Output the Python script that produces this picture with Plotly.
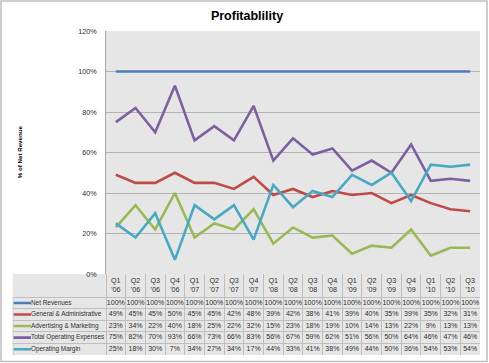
import plotly.graph_objects as go

# ---------------- data ----------------
quarters = ["Q1", "Q2", "Q3", "Q4", "Q1", "Q2", "Q3", "Q4", "Q1", "Q2", "Q3", "Q4",
            "Q1", "Q2", "Q3", "Q4", "Q1", "Q2", "Q3"]
years = ["'06", "'06", "'06", "'06", "'07", "'07", "'07", "'07", "'08", "'08", "'08", "'08",
         "'09", "'09", "'09", "'09", "'10", "'10", "'10"]

series_names = ["Net Revenues", "General & Administrative", "Advertising & Marketing",
                "Total Operating Expenses", "Operating Margin"]
net_revenues = [100] * 19
general_admin = [49, 45, 45, 50, 45, 45, 42, 48, 39, 42, 38, 41, 39, 40, 35, 39, 35, 32, 31]
advertising_marketing = [23, 34, 22, 40, 18, 25, 22, 32, 15, 23, 18, 19, 10, 14, 13, 22, 9, 13, 13]
total_opex = [75, 82, 70, 93, 66, 73, 66, 83, 56, 67, 59, 62, 51, 56, 50, 64, 46, 47, 46]
operating_margin = [25, 18, 30, 7, 34, 27, 34, 17, 44, 33, 41, 38, 49, 44, 50, 36, 54, 53, 54]
series_values = [net_revenues, general_admin, advertising_marketing, total_opex, operating_margin]
colors = ["#4A7EBB", "#BE4B48", "#98B954", "#7D60A0", "#46AAC5"]

# ---------------- layout geometry (pixels) ----------------
W, H = 489, 363
PLOT_L, PLOT_R, PLOT_T, PLOT_B = 106, 480, 31, 274
TABLE_L, TABLE_B = 12.7, 355
n = len(quarters)
band = (PLOT_R - PLOT_L) / n
x2_left = -0.5 - (PLOT_L - TABLE_L) / band


def px_to_x2(px):
    return x2_left + (px - TABLE_L) / band


FONT = "Liberation Sans, Arial, sans-serif"
TXT = "#2E2E2E"
GRID = "#B3B3B3"
TGRID = "#BFBFBF"

cats = list(range(n))
fig = go.Figure()

# main lines
for name, vals, col in zip(series_names, series_values, colors):
    fig.add_trace(go.Scatter(x=cats, y=[v / 100 for v in vals], mode="lines", name=name,
                             line=dict(color=col, width=2.6), xaxis="x", yaxis="y",
                             showlegend=False, hoverinfo="skip"))

# table: header
fig.add_trace(go.Scatter(x=cats, y=[-1.5] * n, mode="text",
                         text=[f"{q}<br>{y}" for q, y in zip(quarters, years)],
                         textfont=dict(family=FONT, size=7.2, color=TXT),
                         xaxis="x2", yaxis="y2", showlegend=False, hoverinfo="skip"))

# table: values
for r, vals in enumerate(series_values):
    fig.add_trace(go.Scatter(x=cats, y=[r] * n, mode="text",
                             text=[f"{v}%" for v in vals],
                             textfont=dict(family=FONT, size=7, color=TXT),
                             xaxis="x2", yaxis="y2", showlegend=False, hoverinfo="skip"))

# table: legend keys and row labels
for r, (name, col) in enumerate(zip(series_names, colors)):
    fig.add_trace(go.Scatter(x=[px_to_x2(13.5), px_to_x2(31)], y=[r, r], mode="lines",
                             line=dict(color=col, width=2.6), xaxis="x2", yaxis="y2",
                             showlegend=False, hoverinfo="skip"))
    fig.add_trace(go.Scatter(x=[px_to_x2(31)], y=[r], mode="text", text=[name],
                             textposition="middle right",
                             textfont=dict(family=FONT, size=6.4, color=TXT),
                             xaxis="x2", yaxis="y2", showlegend=False, hoverinfo="skip",
                             cliponaxis=False))

# table left border
fig.add_trace(go.Scatter(x=[x2_left + 0.01, x2_left + 0.01], y=[-0.5, 4.5], mode="lines",
                         line=dict(color=TGRID, width=1), xaxis="x2", yaxis="y2",
                         showlegend=False, hoverinfo="skip"))

fig.update_layout(
    width=W, height=H,
    margin=dict(l=0, r=0, t=0, b=0, autoexpand=False),
    paper_bgcolor="white",
    plot_bgcolor="#E6E6E6",
    font=dict(family=FONT, color=TXT),
    title=dict(text="<b>Profitablility</b>", x=247 / W, xanchor="center",
               y=1 - 15.5 / H, yanchor="middle", xref="paper", yref="paper",
               font=dict(family=FONT, size=12.5, color="#000000")),
    xaxis=dict(domain=[PLOT_L / W, PLOT_R / W], range=[-0.5, n - 0.5],
               showticklabels=False, showgrid=False, zeroline=False, ticks="",
               showline=False, automargin=False),
    yaxis=dict(domain=[(H - PLOT_B) / H, (H - PLOT_T) / H], range=[0, 1.2],
               tickvals=[0, 0.2, 0.4, 0.6, 0.8, 1.0, 1.2], tickformat=".0%",
               tickfont=dict(family=FONT, size=7.2, color=TXT),
               gridcolor=GRID, gridwidth=1, zeroline=False,
               showline=True, linecolor="#A6A6A6", linewidth=1,
               ticks="", ticklabelstandoff=7, automargin=False),
    xaxis2=dict(domain=[TABLE_L / W, PLOT_R / W], range=[x2_left, n - 0.5],
                tickvals=[i - 0.5 for i in range(n + 1)], showticklabels=False,
                showgrid=True, gridcolor=TGRID, gridwidth=1, zeroline=False, ticks="",
                anchor="y2", automargin=False),
    yaxis2=dict(domain=[(H - TABLE_B) / H, (H - PLOT_B) / H], range=[4.5, -2.5],
                tickvals=[r + 0.5 for r in range(-1, 5)], showticklabels=False,
                showgrid=True, gridcolor=TGRID, gridwidth=1, zeroline=False, ticks="",
                anchor="x2", automargin=False),
    annotations=[dict(text="<b>% of Net Revenue</b>", textangle=-90, x=13.8 / W, y=1 - 152 / H,
                      xref="paper", yref="paper", showarrow=False,
                      font=dict(family=FONT, size=6.2, color="#000000"))],
    shapes=[dict(type="rect", xref="paper", yref="paper", x0=1 / W, x1=(W - 2) / W,
                 y0=1.5 / H, y1=1 - 1 / H, line=dict(color="#BFBFBF", width=1.5),
                 layer="below")],
)

fig.write_html("out.html", config={"displayModeBar": False},
               post_script="document.body.style.margin='0';document.body.style.overflow='hidden';")
